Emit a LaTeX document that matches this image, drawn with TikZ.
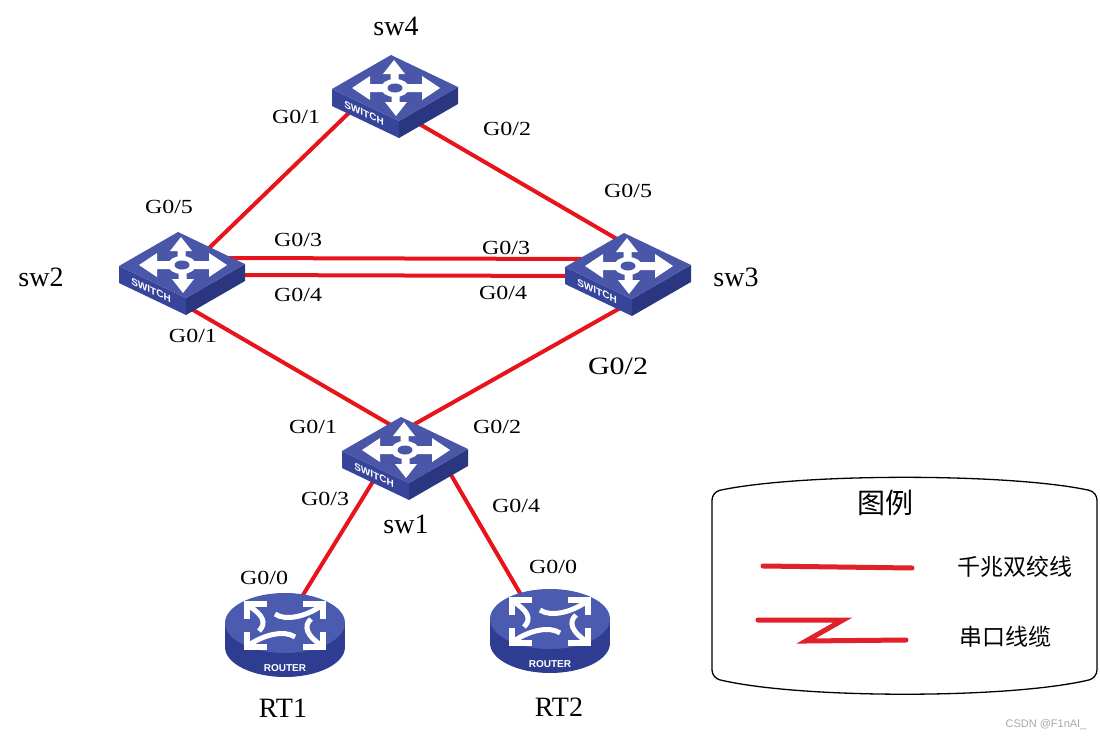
\documentclass[tikz,border=0pt]{standalone}
\usepackage{fontspec}
\setmainfont{Liberation Serif}
\newfontfamily\portfont[FakeStretch=1.2]{Liberation Serif}
\newfontfamily\cjkfont{Noto Sans CJK SC}
\newfontfamily\iconfont{Liberation Sans}
\definecolor{linkred}{HTML}{E8141B}
\definecolor{legred}{HTML}{E0202A}
\definecolor{swtop}{HTML}{4A57A8}
\definecolor{swleft}{HTML}{36449A}
\definecolor{swright}{HTML}{2A3680}
\definecolor{rttop}{HTML}{4A5BB0}
\definecolor{rtside}{HTML}{2E3D92}
\definecolor{wmgray}{HTML}{A8A8A8}
\tikzset{
  link/.style={draw=linkred,line width=2pt},
  legline/.style={draw=legred,line width=2.5pt,line cap=round,line join=miter},
  portlbl/.style={font=\portfont\fontsize{10pt}{12pt}\selectfont,inner sep=0pt,text depth=0pt},
  bigport/.style={font=\portfont\fontsize{12.5pt}{15pt}\selectfont,inner sep=0pt,text depth=0pt},
  devname/.style={font=\fontsize{14pt}{16pt}\selectfont,inner sep=0pt,text depth=0pt},
  icontext/.style={font=\iconfont\bfseries\fontsize{5pt}{6pt}\selectfont,text=white,inner sep=0pt},
  cjktitle/.style={font=\cjkfont\fontsize{14pt}{16pt}\selectfont,inner sep=0pt},
  cjkitem/.style={font=\cjkfont\fontsize{11.5pt}{13pt}\selectfont,inner sep=0pt},
  legendbox/.style={draw=black,line width=0.65pt,rounded corners=4pt},
  switchicon/.pic={
    \fill[swleft] (-63,1) -- (4,33) -- (4,50) -- (-63,18) -- cycle;
    \fill[swright] (4,33) -- (63,-1) -- (63,16) -- (4,50) -- cycle;
    \fill[swtop] (-4,-33) -- (63,-1) -- (4,33) -- (-63,1) -- cycle;
    \fill[white] (11,-4) -- (27,-4) -- (27,-12) -- (45,0) -- (27,12) -- (27,4) -- (11,4) -- cycle;
    \fill[white] (-11,-4) -- (-25,-4) -- (-25,-12) -- (-43,0) -- (-25,12) -- (-25,4) -- (-11,4) -- cycle;
    \fill[white] (-4.5,-6) -- (-4.5,-14) -- (-12,-14) -- (-1,-28) -- (10,-14) -- (3.5,-14) -- (3.5,-6) -- cycle;
    \fill[white] (-3.5,6) -- (-3.5,14) -- (-10,14) -- (1,28) -- (12,14) -- (4.5,14) -- (4.5,6) -- cycle;
    \fill[white] (0,0) ellipse [x radius=14, y radius=9];
    \fill[swtop] (0,0) ellipse [x radius=7.5, y radius=4.5];
    \node[icontext,yslant=-0.478] (-txt) at (-31,25) {SWITCH};
  },
  routericon/.pic={
    \fill[rtside] (-60,0) rectangle (60,24);
    \fill[rtside] (0,24) ellipse [x radius=60, y radius=30];
    \fill[rttop] (0,0) ellipse [x radius=60, y radius=30];
    \begin{scope}[white,line width=2.5pt,line cap=butt]
      \draw (36,-17) .. controls (20,-6) and (0,-2) .. (-10,-9);
      \draw (-36,22) .. controls (-20,11) and (0,7) .. (10,14);
      \draw (-36,-17) .. controls (-22,-8) and (-18,0) .. (-26,8);
      \draw (36,22) .. controls (22,13) and (18,3) .. (26,-4);
    \end{scope}
    \begin{scope}[white,line width=3pt,line join=miter]
      \draw (-18,-19) -- (-38,-19) -- (-38,-4);
      \draw (18,-19) -- (38,-19) -- (38,-4);
      \draw (-18,24) -- (-38,24) -- (-38,9);
      \draw (18,24) -- (38,24) -- (38,9);
    \end{scope}
    \node[icontext] (-txt) at (0,45) {ROUTER};
  }
}
\begin{document}
\begin{tikzpicture}[x=0.5pt,y=-0.5pt]
\useasboundingbox (0,0) rectangle (1100,739);
% link end points
\coordinate (sw4a) at (356,106); \coordinate (sw2a) at (205,252);
\coordinate (sw4b) at (416,122); \coordinate (sw3a) at (622,242);
\coordinate (sw2b) at (222,258); \coordinate (sw3b) at (588,259);
\coordinate (sw2c) at (232,275); \coordinate (sw3c) at (578,276);
\coordinate (sw2d) at (188,307); \coordinate (sw1a) at (396,428);
\coordinate (sw3d) at (622,307); \coordinate (sw1b) at (413,425);
\coordinate (sw1c) at (377,475); \coordinate (rt1a) at (298,603);
\coordinate (sw1d) at (447,468); \coordinate (rt2a) at (524,600);
% links
\draw[link] (sw4a) -- (sw2a);
\draw[link] (sw4b) -- (sw3a);
\draw[link] (sw2b) -- (sw3b);
\draw[link] (sw2c) -- (sw3c);
\draw[link] (sw2d) -- (sw1a);
\draw[link] (sw3d) -- (sw1b);
\draw[link] (sw1c) -- (rt1a);
\draw[link] (sw1d) -- (rt2a);
% devices
\pic (sw4) at (395,88) {switchicon};
\pic (sw2) at (182,265) {switchicon};
\pic (sw3) at (628,266) {switchicon};
\pic (sw1) at (405,450) {switchicon};
\pic (rt1) at (285,623) {routericon};
\pic (rt2) at (550,619) {routericon};
% device names
\node[devname] (n4) at (396,26) {sw4};
\node[devname] (n2) at (41,277) {sw2};
\node[devname] (n3) at (736,277) {sw3};
\node[devname] (n1) at (406,524) {sw1};
\node[devname] (nr1) at (283,708) {RT1};
\node[devname] (nr2) at (559,707) {RT2};
% port labels
\node[portlbl] (l41) at (296,117) {G0/1};
\node[portlbl] (l42) at (507,129) {G0/2};
\node[portlbl] (l25) at (169,207) {G0/5};
\node[portlbl] (l35) at (628,191) {G0/5};
\node[portlbl] (l23) at (298,240) {G0/3};
\node[portlbl] (l33) at (506,248) {G0/3};
\node[portlbl] (l24) at (298,295) {G0/4};
\node[portlbl] (l34) at (503,293) {G0/4};
\node[portlbl] (l21) at (193,336) {G0/1};
\node[bigport] (l32) at (618,366) {G0/2};
\node[portlbl] (l11) at (313,427) {G0/1};
\node[portlbl] (l12) at (497,427) {G0/2};
\node[portlbl] (l13) at (325,499) {G0/3};
\node[portlbl] (l14) at (516,506) {G0/4};
\node[portlbl] (lr1) at (264,578) {G0/0};
\node[portlbl] (lr2) at (553,567) {G0/0};
% legend
\draw[legendbox] (712,492) .. controls (800,473) and (1010,473) .. (1097,492) -- (1097,678) .. controls (1010,699) and (800,699) .. (712,678) -- cycle;
\node[cjktitle] (legtitle) at (885,503) {图例};
\coordinate (lg1a) at (763,566); \coordinate (lg1b) at (912,568);
\draw[legline] (lg1a) -- (lg1b);
\coordinate (lg2a) at (758,620); \coordinate (lg2b) at (906,640);
\draw[legline] (lg2a) -- (843,620) -- (806,641) -- (lg2b);
\node[cjkitem] (leg1) at (1015,567) {千兆双绞线};
\node[cjkitem] (leg2) at (1005,637) {串口线缆};
\node[font=\iconfont\fontsize{5.5pt}{6pt}\selectfont,text=wmgray,inner sep=0pt] (wm) at (1046,725) {CSDN @F1nAI\_};
\end{tikzpicture}
\end{document}
